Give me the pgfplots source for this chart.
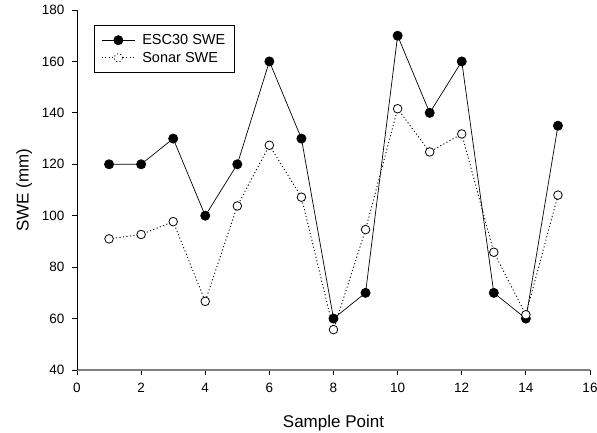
\documentclass[border=0pt]{standalone}
\usepackage{pgfplots}
\pgfplotsset{compat=1.18}
\usepackage{fontspec}
\setmainfont{Liberation Sans}
\begin{document}
\begin{tikzpicture}
\begin{axis}[
    scale only axis,
    width=513pt, height=360pt,
    xmin=0, xmax=16, ymin=40, ymax=180,
    xtick={0,2,...,16}, ytick={40,60,...,180},
    axis x line*=bottom, axis y line*=left,
    tick align=outside, major tick length=5pt,
    tick style={black, line width=0.8pt},
    x axis line style={gray, line width=1.2pt},
    y axis line style={black, line width=0.9pt},
    tick label style={font=\fontsize{13.5}{16}\selectfont},
    yticklabel style={xshift=-4pt},
    xticklabel style={yshift=-5pt},
    /pgf/number format/assume math mode=true,
    xlabel={Sample Point}, ylabel={SWE (mm)},
    label style={font=\fontsize{17}{20}\selectfont},
    xlabel style={at={(axis description cs:0.5,0)}, anchor=base, yshift=-57pt},
    ylabel style={at={(axis description cs:-0.0945,0.5)}, anchor=base},
    legend style={at={(axis description cs:0,1)}, anchor=north west,
        xshift=17pt, yshift=-15pt,
        draw=black, line width=0.8pt, font=\fontsize{14.5}{17}\selectfont,
        inner xsep=7pt, inner ysep=7pt, row sep=2pt},
    legend cell align=left,
]
\addplot[black, line width=0.7pt, mark=*, mark size=4.6pt, mark options={solid, fill=black},
    legend image code/.code={
        \draw[black, line width=0.7pt] (0pt,0pt) -- (33pt,0pt);
        \fill[black] (16.5pt,0pt) circle (4.6pt);
        \path (38pt,0pt);
    }] coordinates {
    (1,120) (2,120) (3,130) (4,100) (5,120) (6,160) (7,130) (8,60)
    (9,70) (10,170) (11,140) (12,160) (13,70) (14,60) (15,135)
};
\addlegendentry{ESC30 SWE}
\addplot[black, line width=0.9pt, dash pattern=on 1.1pt off 2.4pt,
    legend image code/.code={
        \draw[black, line width=0.9pt, dash pattern=on 1.1pt off 2.4pt] (0pt,0pt) -- (33pt,0pt);
        \draw[black, line width=0.8pt, fill=white] (16.5pt,0pt) circle (4.3pt);
        \path (38pt,0pt);
    }] coordinates {
    (1,91) (2,92.7) (3,97.7) (4,66.7) (5,103.8) (6,127.4) (7,107.2) (8,55.7)
    (9,94.6) (10,141.6) (11,124.8) (12,131.8) (13,85.8) (14,61.5) (15,108)
};
\addlegendentry{Sonar SWE}
\addplot[forget plot, only marks, mark=*, mark size=4.3pt,
    mark options={draw=black, fill=white, line width=0.8pt}] coordinates {
    (1,91) (2,92.7) (3,97.7) (4,66.7) (5,103.8) (6,127.4) (7,107.2) (8,55.7)
    (9,94.6) (10,141.6) (11,124.8) (12,131.8) (13,85.8) (14,61.5) (15,108)
};
\end{axis}
\pgfresetboundingbox
\path ([shift={(-77pt,-62pt)}]current axis.south west) rectangle ([shift={(7pt,10pt)}]current axis.north east);
\end{tikzpicture}
\end{document}
